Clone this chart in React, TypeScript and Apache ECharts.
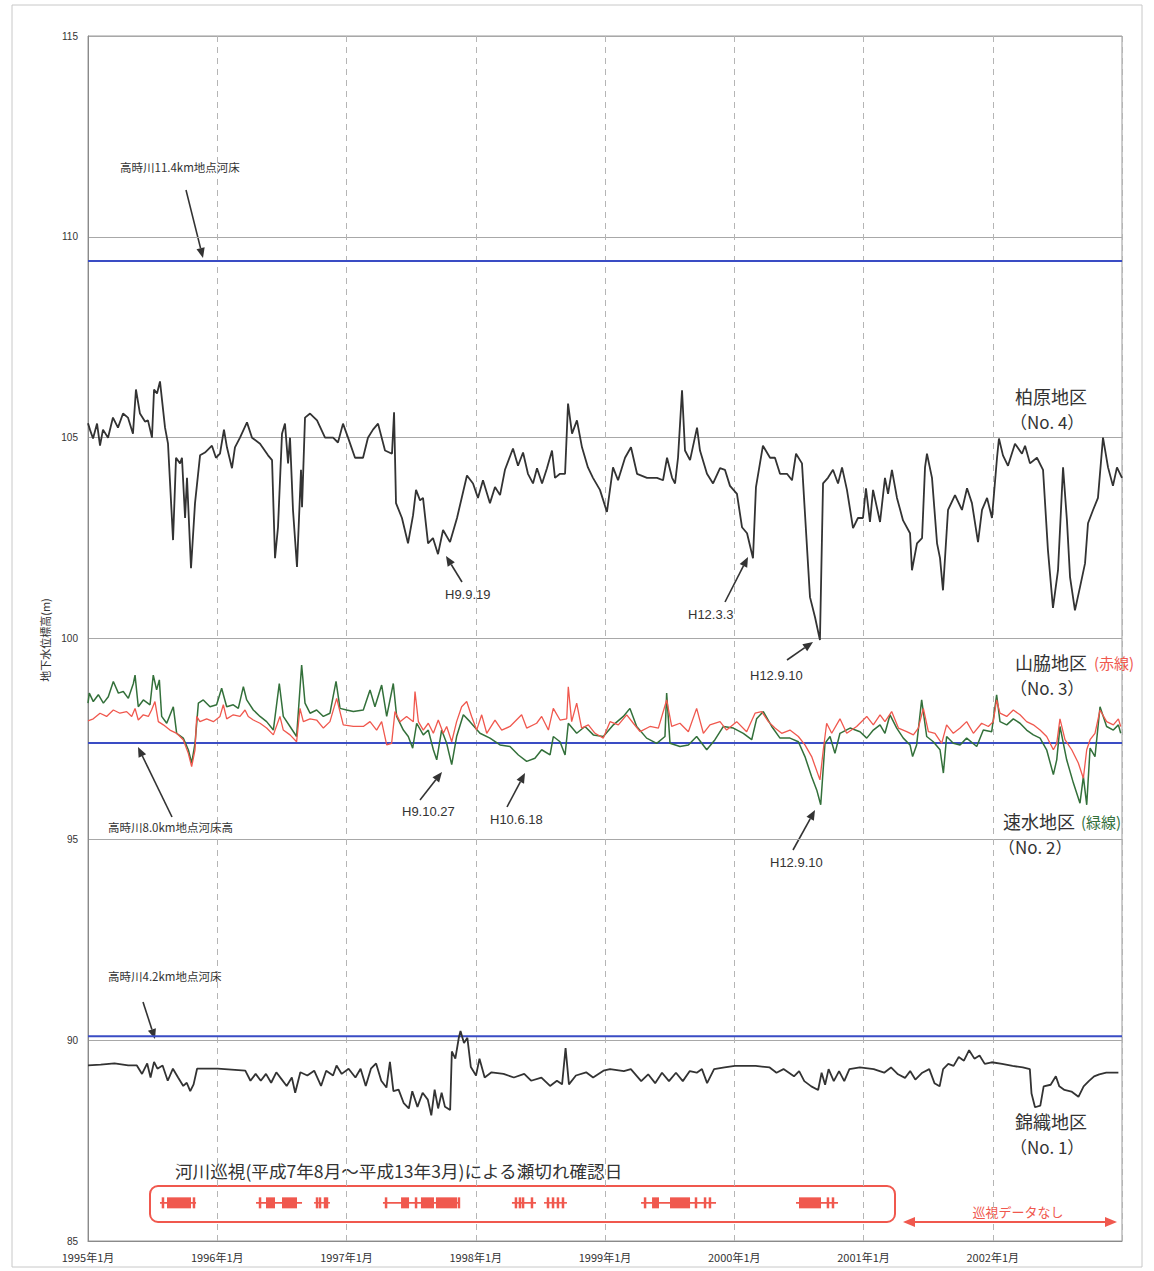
import React, { useEffect, useRef } from "react";
import * as echarts from "echarts";

// x values are years elapsed since January 1995
const START_YEAR = 1995;
const yearTicks = [0, 1, 2, 3, 4, 5, 6, 7, 8];
const yTicks = [85, 90, 95, 100, 105, 110, 115];

// riverbed elevations (m)
const riverbed114 = 109.4;
const riverbed80 = 97.4;
const riverbed42 = 90.1;

// 柏原地区 (No.4)
const kashiwabara: [number, number][] = [
  [0.0, 105.36], [0.015, 105.2], [0.039, 104.98], [0.07, 105.35], [0.093, 104.8], [0.116, 105.2], [0.155, 105.0],
  [0.193, 105.5], [0.232, 105.25], [0.271, 105.6], [0.309, 105.5], [0.348, 105.1], [0.371, 106.2], [0.402, 105.6],
  [0.441, 105.4], [0.464, 105.43], [0.495, 105.0], [0.511, 106.2], [0.534, 106.1], [0.557, 106.4], [0.596, 105.25],
  [0.619, 104.85], [0.658, 102.45], [0.681, 104.5], [0.712, 104.36], [0.727, 104.5], [0.751, 103.0], [0.766, 104.0],
  [0.797, 101.75], [0.828, 103.37], [0.867, 104.56], [0.905, 104.63], [0.959, 104.8], [0.99, 104.5], [1.021, 104.6],
  [1.052, 105.2], [1.075, 104.76], [1.114, 104.24], [1.137, 104.76], [1.176, 105.0], [1.23, 105.38], [1.269, 105.0],
  [1.331, 104.85], [1.393, 104.56], [1.424, 104.44], [1.447, 102.0], [1.47, 102.77], [1.501, 105.1], [1.524, 105.35],
  [1.548, 104.36], [1.563, 105.0], [1.586, 103.2], [1.617, 101.78], [1.648, 104.2], [1.656, 103.27], [1.679, 105.5],
  [1.718, 105.6], [1.772, 105.43], [1.834, 105.0], [1.896, 105.0], [1.934, 104.88], [1.973, 105.35], [2.012, 105.0],
  [2.066, 104.5], [2.128, 104.5], [2.166, 105.0], [2.205, 105.2], [2.244, 105.35], [2.298, 104.68], [2.352, 104.6],
  [2.368, 105.63], [2.383, 103.37], [2.429, 103.0], [2.476, 102.37], [2.515, 103.07], [2.538, 103.7], [2.569, 103.44],
  [2.592, 103.5], [2.631, 102.37], [2.669, 102.5], [2.708, 102.1], [2.747, 102.7], [2.801, 102.4], [2.855, 103.0],
  [2.932, 104.06], [2.979, 103.86], [3.017, 103.5], [3.056, 103.94], [3.11, 103.37], [3.149, 103.77], [3.188, 103.57],
  [3.226, 104.2], [3.288, 104.73], [3.327, 104.3], [3.366, 104.63], [3.404, 104.1], [3.443, 103.86], [3.474, 104.24],
  [3.513, 103.86], [3.551, 104.24], [3.59, 104.68], [3.613, 104.0], [3.652, 104.1], [3.691, 104.1], [3.714, 105.85],
  [3.745, 105.1], [3.783, 105.43], [3.822, 104.76], [3.868, 104.26], [3.907, 104.0], [3.961, 103.7], [4.015, 103.15],
  [4.062, 104.26], [4.101, 103.94], [4.155, 104.5], [4.201, 104.76], [4.248, 104.1], [4.325, 104.0], [4.402, 104.0],
  [4.449, 103.94], [4.48, 104.5], [4.519, 104.0], [4.542, 103.86], [4.565, 104.5], [4.596, 106.18], [4.619, 104.68],
  [4.658, 104.44], [4.712, 105.25], [4.735, 104.68], [4.789, 104.1], [4.836, 103.86], [4.89, 104.24], [4.928, 104.2],
  [4.967, 103.8], [5.021, 103.6], [5.06, 102.77], [5.099, 102.62], [5.145, 102.0], [5.168, 103.77], [5.222, 104.8],
  [5.277, 104.5], [5.315, 104.5], [5.354, 104.1], [5.408, 104.1], [5.447, 103.94], [5.478, 104.6], [5.524, 104.36],
  [5.547, 103.12], [5.586, 101.03], [5.625, 100.53], [5.663, 99.96], [5.687, 103.86], [5.725, 104.0], [5.764, 104.2],
  [5.803, 103.86], [5.834, 104.26], [5.872, 103.7], [5.919, 102.75], [5.957, 103.0], [5.996, 103.0], [6.019, 103.74],
  [6.05, 102.9], [6.074, 103.7], [6.128, 102.9], [6.166, 104.0], [6.19, 103.6], [6.22, 104.2], [6.259, 103.5],
  [6.306, 102.94], [6.36, 102.62], [6.375, 101.7], [6.414, 102.37], [6.453, 102.5], [6.476, 104.26], [6.491, 104.6],
  [6.53, 104.0], [6.569, 102.37], [6.592, 102.0], [6.615, 101.2], [6.654, 103.2], [6.708, 103.57], [6.762, 103.2],
  [6.801, 103.74], [6.839, 103.37], [6.886, 102.4], [6.917, 103.2], [6.956, 103.5], [6.994, 103.0], [7.033, 104.5],
  [7.048, 104.98], [7.079, 104.56], [7.118, 104.3], [7.172, 104.85], [7.226, 104.6], [7.25, 104.8], [7.288, 104.36],
  [7.342, 104.5], [7.389, 104.2], [7.427, 102.2], [7.466, 100.76], [7.505, 101.7], [7.544, 104.26], [7.574, 102.94],
  [7.598, 101.53], [7.636, 100.7], [7.675, 101.28], [7.714, 101.87], [7.737, 102.87], [7.776, 103.2], [7.814, 103.5],
  [7.853, 105.0], [7.892, 104.26], [7.93, 103.8], [7.961, 104.26], [8.0, 104.0],
];

// 山脇地区 (No.3) 赤線
const yamawaki: [number, number][] = [
  [0.0, 97.95], [0.041, 98.0], [0.093, 98.14], [0.144, 98.06], [0.196, 98.22], [0.247, 98.14], [0.299, 98.18],
  [0.338, 98.06], [0.364, 98.26], [0.389, 97.97], [0.428, 98.1], [0.467, 98.06], [0.492, 98.22], [0.518, 98.43],
  [0.544, 97.93], [0.583, 97.85], [0.634, 97.72], [0.686, 97.64], [0.737, 97.48], [0.776, 97.14], [0.802, 96.81],
  [0.828, 97.23], [0.841, 98.06], [0.866, 97.93], [0.918, 98.0], [0.97, 97.93], [1.021, 98.06], [1.047, 98.35],
  [1.073, 98.0], [1.124, 98.1], [1.176, 98.06], [1.215, 98.22], [1.24, 98.06], [1.279, 97.97], [1.331, 97.89],
  [1.382, 97.77], [1.434, 97.6], [1.485, 98.06], [1.511, 97.72], [1.563, 97.6], [1.614, 97.43], [1.64, 98.26],
  [1.666, 97.93], [1.718, 98.0], [1.769, 97.97], [1.821, 97.77], [1.872, 97.93], [1.924, 98.51], [1.975, 97.85],
  [2.053, 97.81], [2.13, 97.81], [2.182, 97.93], [2.233, 97.72], [2.272, 97.93], [2.311, 97.35], [2.349, 97.39],
  [2.375, 98.18], [2.414, 97.93], [2.465, 98.06], [2.517, 97.93], [2.53, 98.68], [2.556, 97.93], [2.594, 97.72],
  [2.633, 97.89], [2.672, 97.64], [2.71, 97.97], [2.749, 97.64], [2.775, 97.81], [2.814, 97.43], [2.852, 97.93],
  [2.891, 98.3], [2.93, 98.43], [2.968, 98.06], [3.007, 97.72], [3.046, 98.1], [3.085, 97.64], [3.149, 97.97],
  [3.201, 97.72], [3.265, 97.81], [3.355, 98.1], [3.394, 97.77], [3.471, 97.89], [3.51, 98.06], [3.562, 97.72],
  [3.6, 98.26], [3.652, 97.97], [3.704, 98.0], [3.716, 98.8], [3.742, 97.93], [3.781, 98.39], [3.819, 97.77],
  [3.871, 97.85], [3.923, 97.64], [3.987, 97.52], [4.039, 97.93], [4.103, 97.85], [4.168, 98.1], [4.219, 97.89],
  [4.271, 97.68], [4.348, 97.81], [4.413, 97.77], [4.477, 98.47], [4.516, 97.81], [4.58, 97.89], [4.645, 97.68],
  [4.709, 98.26], [4.761, 97.64], [4.812, 97.85], [4.89, 97.93], [4.941, 97.72], [5.019, 97.93], [5.096, 97.68],
  [5.161, 98.14], [5.212, 98.18], [5.264, 97.93], [5.315, 97.77], [5.367, 97.64], [5.431, 97.72], [5.496, 97.56],
  [5.547, 97.35], [5.599, 97.06], [5.663, 96.48], [5.689, 97.23], [5.715, 97.89], [5.754, 97.64], [5.818, 98.0],
  [5.87, 97.64], [5.947, 97.81], [6.025, 98.06], [6.076, 97.85], [6.128, 98.1], [6.166, 97.93], [6.218, 98.18],
  [6.27, 97.77], [6.334, 97.68], [6.386, 97.6], [6.424, 97.77], [6.463, 98.26], [6.502, 97.68], [6.553, 97.64],
  [6.605, 97.39], [6.643, 97.85], [6.695, 97.64], [6.747, 97.77], [6.798, 97.93], [6.85, 97.64], [6.914, 97.89],
  [6.966, 97.81], [7.004, 97.93], [7.03, 98.47], [7.056, 98.14], [7.108, 98.06], [7.159, 98.22], [7.211, 98.1],
  [7.262, 97.93], [7.314, 97.85], [7.366, 97.72], [7.417, 97.56], [7.469, 97.23], [7.495, 97.39], [7.52, 98.0],
  [7.559, 97.48], [7.611, 97.23], [7.662, 96.9], [7.701, 96.52], [7.727, 97.23], [7.753, 97.48], [7.791, 97.64],
  [7.83, 98.22], [7.881, 97.93], [7.933, 97.85], [7.972, 98.0], [7.99, 97.81],
];

// 速水地区 (No.2) 緑線
const hayami: [number, number][] = [
  [0.0, 98.39], [0.01, 98.64], [0.041, 98.43], [0.08, 98.6], [0.119, 98.39], [0.157, 98.55], [0.196, 98.93],
  [0.235, 98.64], [0.273, 98.68], [0.312, 98.51], [0.351, 98.88], [0.364, 99.09], [0.389, 98.3], [0.428, 98.47],
  [0.48, 98.35], [0.505, 99.09], [0.531, 98.72], [0.552, 98.97], [0.57, 98.06], [0.609, 97.89], [0.66, 98.3],
  [0.686, 97.64], [0.737, 97.52], [0.776, 97.23], [0.802, 96.9], [0.828, 97.39], [0.854, 98.39], [0.892, 98.47],
  [0.944, 98.3], [0.995, 98.35], [1.034, 98.76], [1.073, 98.3], [1.124, 98.35], [1.163, 98.26], [1.202, 98.8],
  [1.228, 98.47], [1.279, 98.22], [1.331, 98.06], [1.382, 97.93], [1.434, 97.72], [1.48, 98.88], [1.511, 98.06],
  [1.563, 97.81], [1.614, 97.56], [1.653, 99.34], [1.679, 98.39], [1.718, 98.14], [1.769, 98.22], [1.821, 98.06],
  [1.872, 98.14], [1.919, 98.93], [1.95, 98.26], [2.001, 98.22], [2.053, 98.18], [2.13, 98.22], [2.182, 98.72],
  [2.22, 98.3], [2.272, 98.84], [2.311, 98.06], [2.362, 98.88], [2.388, 98.06], [2.44, 97.72], [2.478, 97.56],
  [2.512, 97.27], [2.543, 97.89], [2.594, 97.6], [2.633, 97.72], [2.672, 97.23], [2.698, 96.98], [2.736, 97.72],
  [2.775, 97.39], [2.814, 96.86], [2.852, 97.56], [2.904, 98.1], [2.955, 97.93], [3.033, 97.64], [3.11, 97.52],
  [3.188, 97.35], [3.265, 97.31], [3.33, 97.1], [3.394, 96.94], [3.458, 97.02], [3.51, 97.23], [3.575, 97.1],
  [3.6, 97.56], [3.652, 97.43], [3.691, 97.1], [3.716, 97.89], [3.781, 97.64], [3.845, 97.81], [3.91, 97.6],
  [3.987, 97.56], [4.065, 97.85], [4.142, 98.06], [4.193, 98.26], [4.245, 97.81], [4.322, 97.52], [4.4, 97.39],
  [4.464, 97.56], [4.477, 98.64], [4.503, 97.39], [4.58, 97.31], [4.645, 97.35], [4.709, 97.56], [4.787, 97.23],
  [4.851, 97.48], [4.916, 97.81], [4.993, 97.77], [5.07, 97.64], [5.135, 97.48], [5.173, 98.0], [5.225, 98.18],
  [5.29, 97.81], [5.354, 97.52], [5.431, 97.52], [5.496, 97.43], [5.547, 97.06], [5.599, 96.56], [5.638, 96.23],
  [5.669, 95.86], [5.702, 97.39], [5.741, 97.56], [5.779, 97.14], [5.818, 97.64], [5.896, 97.77], [5.973, 97.68],
  [6.025, 97.52], [6.076, 97.72], [6.128, 97.85], [6.166, 97.64], [6.205, 98.1], [6.257, 97.77], [6.308, 97.52],
  [6.36, 97.35], [6.38, 97.06], [6.411, 97.35], [6.45, 98.47], [6.489, 97.56], [6.54, 97.43], [6.592, 97.23],
  [6.618, 96.65], [6.643, 97.56], [6.695, 97.39], [6.747, 97.35], [6.798, 97.52], [6.876, 97.31], [6.927, 97.72],
  [6.992, 97.68], [7.03, 98.6], [7.056, 97.93], [7.108, 97.85], [7.159, 98.0], [7.211, 97.89], [7.262, 97.72],
  [7.314, 97.6], [7.366, 97.52], [7.417, 97.23], [7.469, 96.61], [7.495, 96.98], [7.52, 97.81], [7.572, 96.98],
  [7.624, 96.4], [7.675, 95.9], [7.701, 96.56], [7.727, 95.86], [7.753, 97.27], [7.791, 97.06], [7.83, 98.3],
  [7.881, 97.81], [7.933, 97.72], [7.972, 97.85], [7.99, 97.64],
];

// 錦織地区 (No.1)
const nishikiori: [number, number][] = [
  [0.0, 89.37], [0.098, 89.39], [0.205, 89.42], [0.311, 89.37], [0.378, 89.37], [0.418, 89.16], [0.458, 89.42],
  [0.484, 89.07], [0.511, 89.46], [0.537, 89.29], [0.577, 89.37], [0.617, 88.99], [0.657, 89.29], [0.697, 89.07],
  [0.737, 88.86], [0.764, 88.94], [0.791, 88.73], [0.817, 88.9], [0.844, 89.29], [1.004, 89.29], [1.217, 89.24],
  [1.257, 88.99], [1.297, 89.16], [1.337, 88.99], [1.377, 89.16], [1.417, 88.94], [1.457, 89.2], [1.497, 89.03],
  [1.537, 88.86], [1.577, 89.07], [1.603, 88.69], [1.643, 89.2], [1.697, 89.12], [1.75, 89.24], [1.803, 88.86],
  [1.843, 89.24], [1.896, 89.12], [1.923, 89.37], [1.963, 89.16], [2.016, 89.29], [2.069, 89.07], [2.109, 89.29],
  [2.149, 88.86], [2.189, 89.29], [2.229, 89.42], [2.269, 88.99], [2.309, 88.82], [2.336, 89.46], [2.363, 88.73],
  [2.403, 88.77], [2.443, 88.43], [2.482, 88.3], [2.509, 88.73], [2.549, 88.34], [2.589, 88.69], [2.629, 88.52],
  [2.656, 88.13], [2.682, 88.77], [2.709, 88.3], [2.736, 88.69], [2.762, 88.34], [2.802, 88.26], [2.815, 89.72],
  [2.842, 89.54], [2.869, 90.06], [2.882, 90.23], [2.909, 89.93], [2.935, 90.06], [2.962, 89.33], [3.002, 89.12],
  [3.029, 89.54], [3.069, 89.07], [3.122, 89.2], [3.215, 89.16], [3.295, 89.07], [3.375, 89.16], [3.428, 88.99],
  [3.508, 89.07], [3.575, 88.86], [3.628, 88.99], [3.668, 88.9], [3.695, 89.8], [3.721, 88.9], [3.775, 89.12],
  [3.854, 89.2], [3.908, 89.07], [3.988, 89.24], [4.039, 89.28], [4.146, 89.23], [4.2, 89.28], [4.28, 88.98],
  [4.334, 89.15], [4.388, 88.93], [4.441, 89.19], [4.495, 88.98], [4.549, 89.19], [4.602, 88.98], [4.656, 89.23],
  [4.71, 89.19], [4.75, 89.28], [4.79, 88.93], [4.844, 89.28], [4.925, 89.32], [5.005, 89.36], [5.166, 89.36],
  [5.274, 89.32], [5.327, 89.19], [5.381, 89.28], [5.462, 89.1], [5.502, 89.23], [5.542, 88.98], [5.596, 88.85],
  [5.649, 88.76], [5.676, 89.19], [5.703, 88.89], [5.73, 89.28], [5.77, 88.98], [5.811, 89.23], [5.851, 88.98],
  [5.891, 89.28], [5.972, 89.32], [6.079, 89.28], [6.16, 89.19], [6.213, 89.32], [6.267, 89.15], [6.321, 89.06],
  [6.361, 89.23], [6.401, 89.02], [6.455, 89.19], [6.509, 89.28], [6.549, 88.93], [6.589, 88.85], [6.616, 89.28],
  [6.656, 89.41], [6.697, 89.36], [6.737, 89.58], [6.777, 89.49], [6.817, 89.75], [6.858, 89.54], [6.898, 89.62],
  [6.938, 89.41], [6.992, 89.45], [7.072, 89.41], [7.153, 89.36], [7.233, 89.32], [7.287, 89.28], [7.3, 88.67],
  [7.327, 88.33], [7.368, 88.37], [7.394, 88.85], [7.448, 88.89], [7.488, 89.1], [7.515, 88.85], [7.555, 88.76],
  [7.609, 88.72], [7.663, 88.59], [7.703, 88.85], [7.743, 88.98], [7.784, 89.1], [7.824, 89.15], [7.878, 89.19],
  [7.972, 89.19],
];

// 河川巡視による瀬切れ確認 (periods [start, end] in years since Jan 1995)
const patrolGroups: [number, number][] = [
  [0.557, 0.836], [1.3, 1.656], [1.749, 1.872], [2.282, 2.878], [3.28, 3.466], [3.528, 3.706], [4.279, 4.859], [5.478, 5.803],
];
const patrolDays: [number, number][] = [
  [0.58, 0.58], [0.611, 0.797], [0.82, 0.82],
  [1.331, 1.331], [1.377, 1.447], [1.501, 1.617], [1.772, 1.772], [1.795, 1.795], [1.834, 1.834], [1.849, 1.849],
  [2.306, 2.306], [2.422, 2.484], [2.538, 2.538], [2.576, 2.677], [2.692, 2.855], [2.87, 2.87],
  [3.311, 3.311], [3.342, 3.342], [3.366, 3.366], [3.435, 3.435], [3.559, 3.559], [3.598, 3.598], [3.636, 3.636], [3.675, 3.675],
  [4.31, 4.31], [4.364, 4.418], [4.503, 4.658], [4.704, 4.704], [4.774, 4.774], [4.812, 4.812],
  [5.501, 5.671], [5.725, 5.725], [5.764, 5.764],
];
const PATROL_LEVEL = 85.95;

const JP = '"Noto Sans CJK JP", "Noto Sans", sans-serif';
const LAT = '"Liberation Sans", Arial, sans-serif';
const RED = "#f0584e";
const GREEN = "#33703a";
const DARK = "#333333";
const BLUE = "#3a4cc4";

function arrow(x1: number, y1: number, x2: number, y2: number, color = DARK, w = 1.6, head = 10): any[] {
  const a = Math.atan2(y2 - y1, x2 - x1);
  const c = Math.cos(a), s = Math.sin(a);
  const bx = x2 - head * c, by = y2 - head * s;
  const hw = head * 0.42;
  return [
    { type: "line", shape: { x1, y1, x2: bx, y2: by }, style: { stroke: color, lineWidth: w }, silent: true },
    {
      type: "polygon",
      shape: { points: [[x2, y2], [bx - hw * s, by + hw * c], [bx + hw * s, by - hw * c]] },
      style: { fill: color },
      silent: true,
    },
  ];
}

function txt(x: number, y: number, text: string, size: number, color = DARK, font = JP, align = "left"): any {
  return {
    type: "text",
    x,
    y,
    silent: true,
    style: { text, fontSize: size, lineHeight: size, fill: color, fontFamily: font, align, verticalAlign: "middle" },
  };
}

export default function App() {
  const ref = useRef<HTMLDivElement>(null);
  useEffect(() => {
    if (!ref.current) return;
    const chart = echarts.init(ref.current, null, { renderer: "svg" });
    const toXY = (d: [number, number][]) => d.map((p) => [p[0], p[1]]);
    const flat = (v: number) => [[yearTicks[0], v], [yearTicks[yearTicks.length - 1], v]];

    const rectItem = (h: number, minW: number) => (params: any, api: any) => {
      const s = api.coord([api.value(0), PATROL_LEVEL]);
      const e = api.coord([api.value(1), PATROL_LEVEL]);
      const w = Math.max(e[0] - s[0], minW);
      return {
        type: "rect",
        shape: { x: s[0] - (e[0] - s[0] < minW ? minW / 2 : 0), y: s[1] - h / 2, width: w, height: h },
        style: { fill: RED },
      };
    };

    const graphic: any[] = [
      { type: "rect", shape: { x: 12, y: 5, width: 1130, height: 1262 }, style: { fill: "none", stroke: "#c8c8c8", lineWidth: 1 }, silent: true },
      {
        type: "text",
        x: 45,
        y: 640,
        rotation: Math.PI / 2,
        silent: true,
        style: { text: "地下水位標高(m)", fontSize: 11, fill: DARK, fontFamily: JP, align: "center", verticalAlign: "middle" },
      },
      txt(120, 167, "高時川11.4km地点河床", 11.5),
      ...arrow(186, 190, 203, 258),
      txt(1015, 396, "柏原地区", 18),
      txt(1010, 421, "（No. 4）", 17),
      txt(445, 594, "H9.9.19", 13, DARK, LAT),
      ...arrow(462, 582, 446, 556),
      txt(688, 614, "H12.3.3", 13, DARK, LAT),
      ...arrow(725, 602, 748, 557),
      txt(750, 675, "H12.9.10", 13, DARK, LAT),
      ...arrow(787, 660, 813, 642),
      txt(1015, 662, "山脇地区", 18),
      txt(1094, 662, "(赤線)", 15, RED),
      txt(1010, 687, "（No. 3）", 17),
      txt(108, 827, "高時川8.0km地点河床高", 11.5),
      ...arrow(172, 817, 138, 747),
      txt(402, 811, "H9.10.27", 13, DARK, LAT),
      ...arrow(420, 800, 442, 772),
      txt(490, 819, "H10.6.18", 13, DARK, LAT),
      ...arrow(507, 807, 525, 773),
      txt(770, 862, "H12.9.10", 13, DARK, LAT),
      ...arrow(793, 850, 815, 810),
      txt(1003, 821, "速水地区", 18),
      txt(1081, 821, "(緑線)", 15, GREEN),
      txt(998, 846, "（No. 2）", 17),
      txt(108, 976, "高時川4.2km地点河床", 11.5),
      ...arrow(143, 1002, 155, 1039),
      txt(1015, 1121, "錦織地区", 18),
      txt(1010, 1146, "（No. 1）", 17),
      txt(175, 1170, "河川巡視(平成7年8月～平成13年3月)による瀬切れ確認日", 17.6),
      {
        type: "rect",
        shape: { x: 150, y: 1186, width: 745, height: 36, r: 8 },
        style: { fill: "none", stroke: RED, lineWidth: 2 },
        silent: true,
      },
      ...arrow(1000, 1222, 903, 1222, RED, 1.8, 12),
      ...arrow(1000, 1222, 1117, 1222, RED, 1.8, 12),
      txt(1018, 1211, "巡視データなし", 13, RED, JP, "center"),
    ];

    chart.setOption({
      animation: false,
      backgroundColor: "#ffffff",
      grid: { left: 88, right: 32, top: 36, bottom: 30, show: true, borderColor: "#9a9a9a", borderWidth: 1 },
      xAxis: {
        type: "value",
        min: yearTicks[0],
        max: yearTicks[yearTicks.length - 1],
        interval: 1,
        axisLine: { show: true, lineStyle: { color: "#8a8a8a" } },
        axisTick: { show: false },
        axisLabel: {
          fontSize: 11,
          color: DARK,
          fontFamily: JP,
          margin: 10,
          formatter: (v: number) => (v >= yearTicks[yearTicks.length - 1] ? "" : `${START_YEAR + v}年1月`),
        },
        splitLine: { show: true, lineStyle: { color: "#b5b5b5", type: [6, 5], width: 1 } },
      },
      yAxis: {
        type: "value",
        min: yTicks[0],
        max: yTicks[yTicks.length - 1],
        interval: 5,
        axisLine: { show: true, lineStyle: { color: "#8a8a8a" } },
        axisTick: { show: false },
        axisLabel: { fontSize: 10, color: DARK, fontFamily: LAT, margin: 10 },
        splitLine: { show: true, lineStyle: { color: "#a8a8a8", width: 1 } },
      },
      graphic,
      series: [
        { type: "line", data: flat(riverbed114), symbol: "none", lineStyle: { color: BLUE, width: 2 }, silent: true },
        { type: "line", data: flat(riverbed80), symbol: "none", lineStyle: { color: BLUE, width: 2 }, silent: true },
        { type: "line", data: flat(riverbed42), symbol: "none", lineStyle: { color: BLUE, width: 2 }, silent: true },
        { type: "line", data: toXY(kashiwabara), symbol: "none", lineStyle: { color: DARK, width: 1.8 }, silent: true },
        { type: "line", data: toXY(hayami), symbol: "none", lineStyle: { color: GREEN, width: 1.5 }, silent: true },
        { type: "line", data: toXY(yamawaki), symbol: "none", lineStyle: { color: RED, width: 1.3 }, silent: true },
        { type: "line", data: toXY(nishikiori), symbol: "none", lineStyle: { color: DARK, width: 1.8 }, silent: true },
        { type: "custom", data: patrolGroups, renderItem: rectItem(1.6, 1), silent: true },
        { type: "custom", data: patrolDays, renderItem: rectItem(11, 2.5), silent: true },
      ],
    });
    return () => chart.dispose();
  }, []);
  return <div ref={ref} style={{ position: "fixed", left: 0, top: 0, width: 1154, height: 1271, background: "#fff" }} />;
}
